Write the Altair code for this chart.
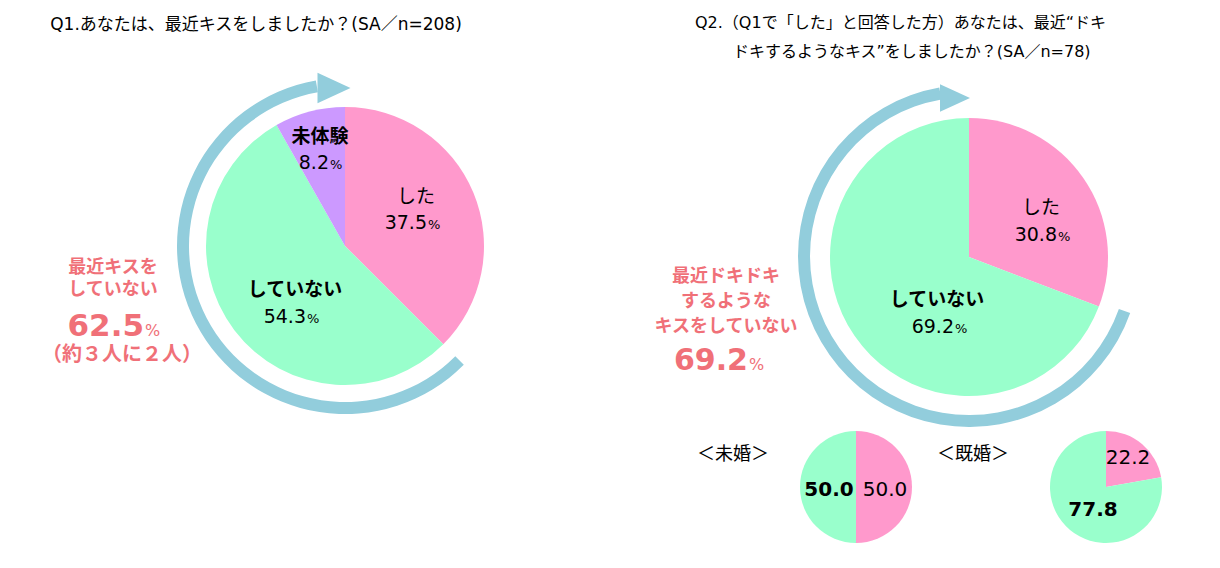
import math
import altair as alt
import pandas as pd

OFF = 8  # page margin

# ---------------- data ----------------
cat_order = ["した", "していない", "未体験"]
q1_cats = ["した", "していない", "未体験"]
q1_vals = [37.5, 54.3, 8.2]
q2_cats = ["した", "していない"]
q2_vals = [30.8, 69.2]
single_cats = ["した", "していない"]
single_vals = [50.0, 50.0]
married_cats = ["した", "していない"]
married_vals = [22.2, 77.8]

q1_title = "Q1.あなたは、最近キスをしましたか？(SA／n=208)"
q2_title = ["Q2.（Q1で「した」と回答した方）あなたは、最近“ドキ",
            "ドキするようなキス”をしましたか？(SA／n=78)"]
q1_note = ["最近キスを", "していない", "62.5", "（約３人に２人）"]
q2_note = ["最近ドキドキ", "するような", "キスをしていない", "69.2"]
group_labels = ["＜未婚＞", "＜既婚＞"]

# ---------------- style ----------------
PINK, GREEN, PURPLE = "#FF99CC", "#99FFCC", "#CC99FF"
RING = "#92CDDC"
NOTE = "#F07078"
FONT = "DejaVu Sans, Noto Sans CJK JP"
dummy = pd.DataFrame({"d": [0]})
color_scale = alt.Scale(domain=cat_order, range=[PINK, GREEN, PURPLE])


def pie(cats, vals, cx, cy, r):
    df = pd.DataFrame({"cat": cats, "val": vals, "ord": list(range(len(cats)))})
    return alt.Chart(df).mark_arc(radius=r).encode(
        theta=alt.Theta("val:Q", stack=True),
        color=alt.Color("cat:N", scale=color_scale, legend=None),
        order=alt.Order("ord:Q"),
        x=alt.value(cx - OFF), y=alt.value(cy - OFF),
    )


def ring(cx, cy, r_in, r_out, t0, t1):
    return alt.Chart(dummy).mark_arc(
        color=RING, theta=math.radians(t0), theta2=math.radians(t1),
        radius=r_out, radius2=r_in,
    ).encode(x=alt.value(cx - OFF), y=alt.value(cy - OFF))


def head(x, y, size):
    return alt.Chart(dummy).mark_point(
        shape="M -1 -0.92 L 1 0 L -1 0.92 Z", filled=True, color=RING,
        opacity=1, size=size, strokeWidth=0,
    ).encode(x=alt.value(x - OFF), y=alt.value(y - OFF))


def txt(s, x, y, size, weight="normal", color="#000000", align="center"):
    return alt.Chart(dummy).mark_text(
        text=s, fontSize=size, fontWeight=weight, color=color, align=align,
        baseline="middle", font=FONT,
    ).encode(x=alt.value(x - OFF), y=alt.value(y - OFF))


def pct(num, xsplit, y, size, psize, weight="normal", color="#000000"):
    return [txt(num, xsplit, y, size, weight, color, "right"),
            txt("%", xsplit + 1, y + size * 0.12, psize, "normal", color, "left")]


layers = []
# rings and arrow heads
layers += [ring(345, 246, 156, 168, 135, 350), head(334, 88, 1089)]
layers += [ring(969, 256, 159, 171, 109.5, 350), head(955, 98, 900)]
# pies
layers += [pie(q1_cats, q1_vals, 345, 246, 139)]
layers += [pie(q2_cats, q2_vals, 969, 257, 139)]
layers += [pie(single_cats, single_vals, 856, 487, 56)]
layers += [pie(married_cats, married_vals, 1106, 487, 56)]

# titles
layers += [txt(q1_title, 256, 25, 17)]
layers += [txt(q2_title[0], 695, 23, 16, align="left"),
           txt(q2_title[1], 733, 52, 16, align="left")]

# Q1 pie labels
layers += [txt(q1_cats[2], 320, 137, 19, "bold")]
layers += pct(f"{q1_vals[2]:.1f}", 329, 163, 19, 13)
layers += [txt(q1_cats[0], 416, 197, 19)]
layers += pct(f"{q1_vals[0]:.1f}", 427, 223, 19, 13)
layers += [txt(q1_cats[1], 295, 290, 19, "bold")]
layers += pct(f"{q1_vals[1]:.1f}", 306, 317, 19, 13)

# Q2 pie labels
layers += [txt(q2_cats[0], 1041, 208, 19)]
layers += pct(f"{q2_vals[0]:.1f}", 1057, 235, 19, 13)
layers += [txt(q2_cats[1], 937, 300, 19, "bold")]
layers += pct(f"{q2_vals[1]:.1f}", 954, 327, 19, 13)

# small pies
layers += [txt(group_labels[0], 733, 455, 18), txt(group_labels[1], 973, 455, 18)]
layers += [txt(f"{single_vals[1]:.1f}", 829, 490, 20, "bold"),
           txt(f"{single_vals[0]:.1f}", 885, 490, 20)]
layers += [txt(f"{married_vals[0]:.1f}", 1128, 458, 20),
           txt(f"{married_vals[1]:.1f}", 1093, 510, 20, "bold")]

# annotations
layers += [txt(q1_note[0], 113, 268, 18, "bold", NOTE),
           txt(q1_note[1], 113, 290, 18, "bold", NOTE)]
layers += pct(q1_note[2], 144, 327, 31, 16, "bold", NOTE)
layers += [txt(q1_note[3], 122, 355, 20, "bold", NOTE)]

layers += [txt(q2_note[0], 726, 277, 18, "bold", NOTE),
           txt(q2_note[1], 726, 302, 18, "bold", NOTE),
           txt(q2_note[2], 726, 327, 18, "bold", NOTE)]
layers += pct(q2_note[3], 748, 361, 30, 16, "bold", NOTE)

chart = alt.layer(*layers).properties(
    width=1204, height=552, padding=0,
    autosize=alt.AutoSizeParams(type="none"),
).configure_view(stroke=None)

chart.save("out.html", embed_options={"renderer": "svg", "actions": False})
